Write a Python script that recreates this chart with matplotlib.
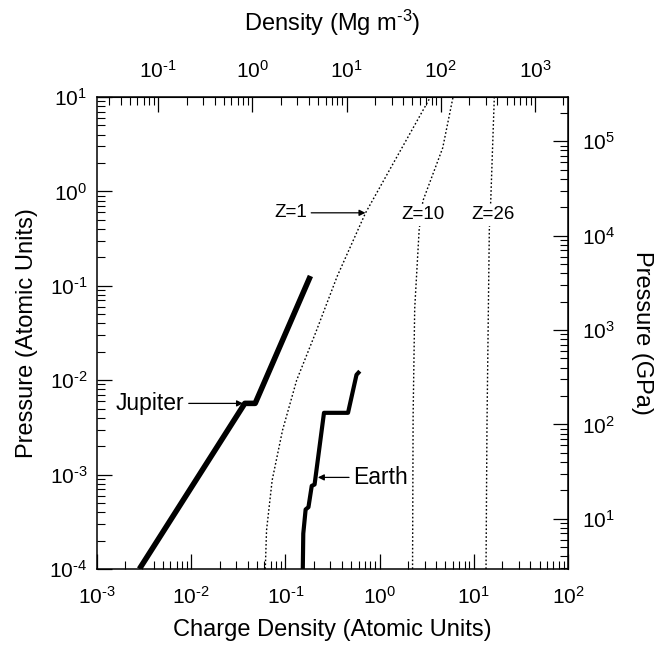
import math
import matplotlib
matplotlib.use('Agg')
import matplotlib.pyplot as plt
from matplotlib.ticker import FixedLocator, FuncFormatter, LogLocator, NullFormatter

plt.rcParams['font.family'] = ['Liberation Sans', 'DejaVu Sans']
plt.rcParams['mathtext.fontset'] = 'custom'
plt.rcParams['mathtext.rm'] = 'Liberation Sans'
plt.rcParams['mathtext.it'] = 'Liberation Sans:italic'
plt.rcParams['mathtext.bf'] = 'Liberation Sans:bold'
plt.rcParams['axes.unicode_minus'] = False

# planetary interiors (charge density, pressure) in atomic units
jupiter_x = [0.00282, 0.0371, 0.0478, 0.1845]
jupiter_p = [1e-4, 0.00568, 0.00568, 0.127]

earth_x = [0.1531, 0.1549, 0.1641, 0.1758, 0.1905, 0.2042, 0.2570, 0.4624, 0.5689, 0.6166]
earth_p = [1e-4, 2.37e-4, 4.27e-4, 4.52e-4, 7.59e-4, 7.85e-4, 4.51e-3, 4.51e-3, 0.0114, 0.01245]

# compression curves for Z = 1, 10, 26
z1_x = [0.0612, 0.0631, 0.0724, 0.0933, 0.1318, 0.2089, 0.3548, 0.7079, 1.349, 3.467]
z1_p = [1e-4, 2.57e-4, 8.71e-4, 2.95e-3, 0.01, 0.0316, 0.126, 0.589, 1.862, 10.0]

z10_x = [2.239, 2.270, 2.360, 2.630, 2.884, 4.677, 6.026]
z10_p = [1e-4, 4.17e-3, 0.0575, 0.389, 0.794, 2.884, 10.0]

z26_x = [13.49, 13.80, 14.62, 15.14, 16.52]
z26_p = [1e-4, 3.16e-3, 0.389, 0.794, 10.0]

x_ticks = [1e-3, 1e-2, 1e-1, 1e0, 1e1, 1e2]
y_ticks = [1e-4, 1e-3, 1e-2, 1e-1, 1e0, 1e1]
rho_ticks = [1e-1, 1e0, 1e1, 1e2, 1e3]
gpa_ticks = [1e1, 1e2, 1e3, 1e4, 1e5]

rho_per_au = 22.4      # Mg m^-3 per atomic unit of charge density
gpa_per_au = 29421.0   # GPa per atomic unit of pressure


def pow10(v, pos):
    e = int(round(math.log10(v)))
    if e < 0:
        return r'$\mathdefault{10^{\text{-%d}}}$' % (-e)
    return r'$\mathdefault{10^{%d}}$' % e


fig = plt.figure(figsize=(6.57, 6.47), dpi=100, facecolor='white')
ax = fig.add_axes([0.1476, 0.1206, 0.7169, 0.7295])

ax.plot(jupiter_x, jupiter_p, '-', color='black', lw=4.0, solid_capstyle='butt')
ax.plot(earth_x, earth_p, '-', color='black', lw=3.0, solid_capstyle='butt')
dots = (0, (1.2, 1.6))
ax.plot(z1_x, z1_p, color='black', lw=1.0, linestyle=dots)
ax.plot(z10_x, z10_p, color='black', lw=1.0, linestyle=dots)
ax.plot(z26_x, z26_p, color='black', lw=1.0, linestyle=dots)

ax.set_xscale('log')
ax.set_yscale('log')
ax.set_xlim(1e-3, 1e2)
ax.set_ylim(1e-4, 1e1)

arrow = dict(arrowstyle='-|>', color='black', lw=0.9, mutation_scale=9, shrinkA=1, shrinkB=0)
ax.annotate('Jupiter', xy=(10**-1.45, 10**-2.246), xytext=(10**-2.07, 10**-2.246),
            ha='right', va='center', fontsize=16.5, arrowprops=arrow)
ax.annotate('Earth', xy=(10**-0.655, 10**-3.03), xytext=(10**-0.28, 10**-3.03),
            ha='left', va='center', fontsize=16.5, arrowprops=arrow)
ax.annotate('Z=1', xy=(10**-0.15, 10**-0.227), xytext=(10**-0.77, 10**-0.227),
            ha='right', va='center', fontsize=13.5, arrowprops=arrow)
white = dict(facecolor='white', edgecolor='none', pad=1.5)
ax.text(10**0.46, 10**-0.25, 'Z=10', ha='center', va='center', fontsize=13.5, bbox=white)
ax.text(10**1.21, 10**-0.25, 'Z=26', ha='center', va='center', fontsize=13.5, bbox=white)

top = ax.secondary_xaxis('top', functions=(lambda x: x * rho_per_au, lambda x: x / rho_per_au))
right = ax.secondary_yaxis('right', functions=(lambda p: p * gpa_per_au, lambda p: p / gpa_per_au))

ax.xaxis.set_major_locator(FixedLocator(x_ticks))
ax.yaxis.set_major_locator(FixedLocator(y_ticks))
top.xaxis.set_major_locator(FixedLocator(rho_ticks))
right.yaxis.set_major_locator(FixedLocator(gpa_ticks))
for axis in (ax.xaxis, ax.yaxis, top.xaxis, right.yaxis):
    axis.set_major_formatter(FuncFormatter(pow10))
    axis.set_minor_locator(LogLocator(base=10, subs=range(2, 10), numticks=20))
    axis.set_minor_formatter(NullFormatter())

for a in (ax, top, right):
    a.tick_params(which='major', direction='in', length=11, width=0.9, labelsize=15)
    a.tick_params(which='minor', direction='in', length=5.5, width=0.8)
ax.tick_params(top=False, right=False, which='both')
ax.tick_params(axis='x', pad=12)
ax.tick_params(axis='y', pad=7)
top.tick_params(axis='x', pad=11)
right.tick_params(axis='y', pad=10)

for s in ax.spines.values():
    s.set_linewidth(1.1)

ax.set_xlabel('Charge Density (Atomic Units)', fontsize=17, labelpad=8)
ax.set_ylabel('Pressure (Atomic Units)', fontsize=17, labelpad=8)
top.set_xlabel('Density (Mg m$^{\\text{-3}}$)', fontsize=17, labelpad=21)
right.set_ylabel('Pressure (GPa)', fontsize=17, rotation=270, labelpad=27)

fig.savefig('out.png', dpi=100, facecolor='white')
